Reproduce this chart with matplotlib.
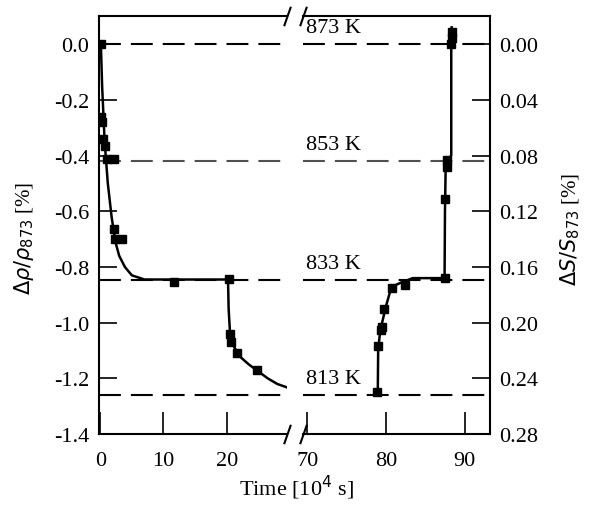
import matplotlib.pyplot as plt

plt.rcParams['font.family'] = ['Liberation Serif', 'DejaVu Serif']
plt.rcParams['axes.unicode_minus'] = False
plt.rcParams['mathtext.fontset'] = 'dejavusans'

# left part: time [1e4 s] vs delta rho / rho873 [%]
t_left = [0.1, 0.1, 0.27, 0.43, 0.74, 1.06, 2.16, 2.16, 2.3, 3.4, 11.6, 20.3, 20.5, 20.6, 21.6, 24.8]
rho_left = [0.0, -0.262, -0.28, -0.341, -0.366, -0.413, -0.413, -0.664, -0.70, -0.70,
            -0.855, -0.844, -1.04, -1.07, -1.11, -1.17]

# fitted curve, left part
tc_left = [0.1, 0.3, 0.7, 1.2, 1.8, 2.4, 3.0, 3.9, 5.0, 7.0, 12.0, 20.2, 20.3, 20.5,
           21.0, 22.0, 23.5, 25.0, 26.5, 28.0, 29.5]
rhoc_left = [0.0, -0.15, -0.35, -0.50, -0.62, -0.71, -0.76, -0.80, -0.83, -0.845, -0.845,
             -0.845, -0.95, -1.03, -1.08, -1.12, -1.15, -1.175, -1.20, -1.22, -1.232]

# right part: time vs delta S / S873 [%]
t_right = [78.9, 79.0, 79.3, 79.5, 79.8, 80.7, 82.4, 87.5, 87.5, 87.7, 87.8, 88.3, 88.35, 88.4]
s_right = [0.250, 0.217, 0.205, 0.203, 0.190, 0.175, 0.173, 0.168, 0.111, 0.088, 0.083,
           0.0, -0.004, -0.009]

tc_right = [78.95, 79.0, 79.2, 79.5, 80.0, 80.6, 81.2, 82.0, 83.4, 87.45, 87.5, 87.6, 88.3, 88.3, 88.35]
sc_right = [0.250, 0.219, 0.209, 0.200, 0.188, 0.176, 0.173, 0.171, 0.168, 0.168, 0.12,
            0.085, 0.080, 0.0, -0.012]

levels_rho = [0.0, -0.42, -0.845, -1.26]
level_names = ['873 K', '853 K', '833 K', '813 K']
level_colors = ['black', '#505050', 'black', 'black']

fig = plt.figure(figsize=(5.89, 5.06), dpi=100)
ax1 = fig.add_axes([0.168, 0.140, 0.319, 0.826])
ax2 = fig.add_axes([0.514, 0.140, 0.3175, 0.826])

ax1.set_xlim(-0.2, 29.5)
ax1.set_ylim(-1.4, 0.1)
ax2.set_xlim(69.4, 93.2)
ax2.set_ylim(0.28, -0.02)

for ax in (ax1, ax2):
    for s in ax.spines.values():
        s.set_linewidth(1.5)
ax1.spines['right'].set_visible(False)
ax2.spines['left'].set_visible(False)

# dashed temperature levels
for r, c in zip(levels_rho, level_colors):
    ax1.axhline(r, color=c, lw=1.5, dashes=(10.5, 4.8), zorder=1)
    ax2.axhline(-r / 5, color=c, lw=1.5, dashes=(10.5, 4.8), zorder=1)
for r, name in zip(levels_rho, level_names):
    ax2.annotate(name, (73.3, -r / 5), xytext=(0, 5), textcoords='offset points',
                 ha='center', va='bottom', fontsize=16)

ax1.plot(tc_left, rhoc_left, color='black', lw=1.8, zorder=2)
ax1.plot(t_left, rho_left, 's', color='black', ms=6, zorder=3)
ax2.plot(tc_right, sc_right, color='black', lw=1.8, zorder=2)
ax2.plot(t_right, s_right, 's', color='black', ms=6, zorder=3)

ax1.set_xticks([0, 10, 20])
ax1.set_yticks([0.0, -0.2, -0.4, -0.6, -0.8, -1.0, -1.2, -1.4])
ax1.set_yticklabels(['%.1f' % v for v in [0.0, -0.2, -0.4, -0.6, -0.8, -1.0, -1.2, -1.4]])
ax1.tick_params(axis='y', direction='in', length=13, width=1.2, pad=7, labelsize=16)
ax1.tick_params(axis='x', direction='in', length=16, width=1.2, pad=12, labelsize=16)

ax2.set_xticks([70, 80, 90])
s_ticks = [0.00, 0.04, 0.08, 0.12, 0.16, 0.20, 0.24, 0.28]
ax2.set_yticks(s_ticks)
ax2.set_yticklabels(['%.2f' % v for v in s_ticks])
ax2.yaxis.tick_right()
ax2.tick_params(axis='y', direction='in', length=13, width=1.2, pad=7, labelsize=16)
ax2.tick_params(axis='x', direction='in', length=16, width=1.2, pad=12, labelsize=16)

# break marks
kw = dict(marker=[(-0.35, -1), (0.35, 1)], markersize=14, linestyle='none',
          color='k', mec='k', mew=1.5, clip_on=False)
ax1.plot([1, 1], [0, 1], transform=ax1.transAxes, **kw)
ax2.plot([0, 0], [0, 1], transform=ax2.transAxes, **kw)

fig.text(296 / 589, 1 - 488 / 506, 'Time [10$^4$ s]', ha='center', va='center', fontsize=16)
fig.text(24 / 589, 1 - 238 / 506, r'$\Delta\rho/\rho_{873}$ [%]', rotation=90,
         ha='center', va='center', fontsize=15)
fig.text(570 / 589, 1 - 229 / 506, r'$\Delta S/S_{873}$ [%]', rotation=90,
         ha='center', va='center', fontsize=15)

fig.savefig('out.png', dpi=100)
